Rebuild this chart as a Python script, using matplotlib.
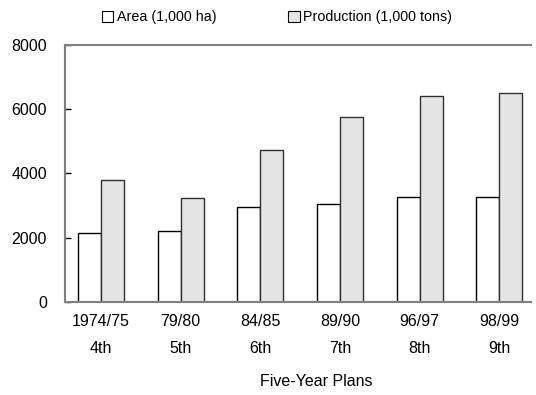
import matplotlib
matplotlib.use("Agg")
import matplotlib.pyplot as plt
from matplotlib.patches import Patch
import numpy as np

plt.rcParams['font.family'] = ['Liberation Sans', 'DejaVu Sans']

years = ["1974/75", "79/80", "84/85", "89/90", "96/97", "98/99"]
plans = ["4th", "5th", "6th", "7th", "8th", "9th"]
area = [2150, 2200, 2960, 3040, 3270, 3270]
production = [3800, 3230, 4720, 5750, 6400, 6500]

fig = plt.figure(figsize=(5.36, 3.95), dpi=100)
ax = fig.add_axes([65 / 536, 93.3 / 395, 466 / 536, 256.7 / 395])

x = np.arange(len(years))
w = 0.289
ax.bar(x - w / 2, area, w, color="white", edgecolor="black", linewidth=1.0)
ax.bar(x + w / 2, production, w, color="#e5e5e5", edgecolor="#303030", linewidth=1.0)

ax.set_xlim(-0.452, 5.40)
ax.set_ylim(0, 8000)
ax.set_yticks([0, 2000, 4000, 6000, 8000])
ax.tick_params(axis="y", direction="in", length=4, width=1, pad=13, labelsize=11.5)

ax.set_xticks(x)
ax.set_xticklabels([f"{y}\n{p}" for y, p in zip(years, plans)])
ax.tick_params(axis="x", length=0, pad=9, labelsize=11.5)
for lbl in ax.get_xticklabels():
    lbl.set_linespacing(2.0)

for side in ["top", "left", "bottom"]:
    ax.spines[side].set_color("#808080")
    ax.spines[side].set_linewidth(1.5)
ax.spines["right"].set_visible(False)

fig.text(316 / 536, 1 - 382 / 395, "Five-Year Plans", ha="center", va="center", fontsize=11.5)

handles = [Patch(facecolor="white", edgecolor="black", linewidth=0.8),
           Patch(facecolor="#e5e5e5", edgecolor="black", linewidth=0.8)]
fig.legend(handles, ["Area (1,000 ha)", "Production (1,000 tons)"],
           loc="center", bbox_to_anchor=(277 / 536, 1 - 17 / 395), ncol=2,
           frameon=False, fontsize=10.3, handlelength=0.8, handleheight=0.8,
           handletextpad=0.25, columnspacing=5.0)

fig.savefig("out.png", dpi=100)
